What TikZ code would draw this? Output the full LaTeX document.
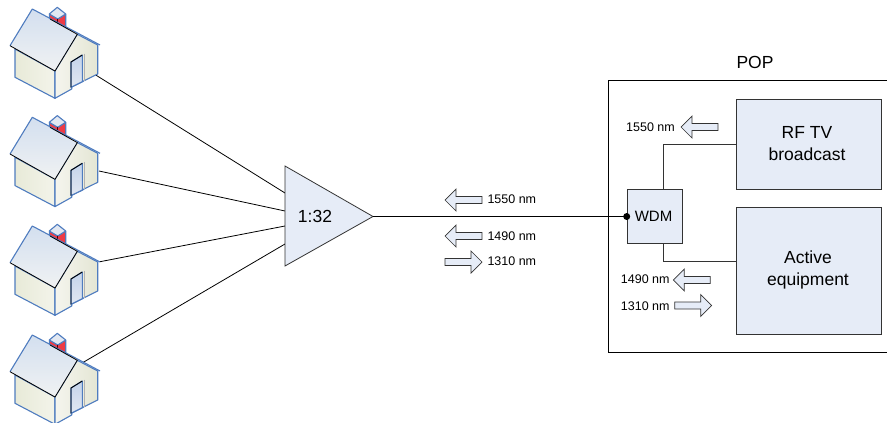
\documentclass[tikz,border=0pt]{standalone}
\usepackage{fontspec}
\setmainfont{Liberation Sans}
\definecolor{boxfill}{HTML}{E6ECF7}
\definecolor{boxline}{HTML}{333333}
\definecolor{roofblue}{HTML}{4F7CBF}
\definecolor{walla}{HTML}{E8EAD8}
\definecolor{wallb}{HTML}{F3F4EA}
\definecolor{wallc}{HTML}{F5F5EE}
\definecolor{walld}{HTML}{E4E6D4}
\definecolor{rooftop}{HTML}{D3DFEF}
\definecolor{roofbot}{HTML}{F0F2F3}
\definecolor{chimred}{HTML}{EE3B45}
\definecolor{doortop}{HTML}{C4D3EA}
\definecolor{doorbot}{HTML}{E2E8F2}
\tikzset{
  x=1pt,y=-1pt,
  panel/.style={draw=boxline,fill=boxfill,line width=0.8pt,inner sep=0pt,align=center,anchor=north west},
  wire/.style={draw=black,line width=0.8pt},
  wiregray/.style={draw=boxline,line width=0.8pt},
  lam/.style={anchor=west,inner sep=0pt,font=\fontsize{12.5}{14}\selectfont},
  big/.style={font=\fontsize{17.5}{21.5}\selectfont},
  blockarrow/.style={draw=boxline,fill=boxfill,line width=0.7pt,line join=miter},
  hline/.style={draw=roofblue,line width=1.1pt,line join=round},
  house/.pic={
    \path[left color=walla,right color=wallb,hline]
      (15,49)--(15,77.3)--(55,98.3)--(55,71)--cycle;
    \path[left color=wallc,right color=walld,hline]
      (55,98.3)--(71.7,89)--(71.7,87)--(83,81.5)--(83.5,81)--(97.7,74)--(97.7,45)--(77.3,34.3)--(55,71)--cycle;
    \path[draw=roofblue,line width=1.1pt,line join=round,fill=chimred] (49.3,14)--(57.7,19)--(65.7,14)--(65.7,32)--(49.3,22)--cycle;
    \path[hline,fill=doorbot] (49.3,14)--(57.3,7.3)--(65.7,14)--(57.7,19)--cycle;
    \draw[line width=0.7pt,black!70!red] (57.7,19)--(57.7,25);
    \path[top color=doortop,bottom color=doorbot,hline] (71,62)--(82.3,55)--(82.3,81.7)--(71,87.3)--cycle;
    \draw[black,line width=0.9pt] (71,87.3)--(71,62)--(82.3,55);
    \draw[white!70!black,line width=0.7pt] (84.3,53.5)--(84.3,80.5);
    \path[top color=rooftop,bottom color=roofbot,draw=none] (32.3,9)--(77.3,34.3)--(55,71)--(10,45.7)--cycle;
    \draw[roofblue,line width=1.1pt,line join=round] (10,45.7)--(32.3,9)--(100,45);
    \draw[black,line width=0.8pt] (10,45.7)--(55,71)--(77.3,34.3)--(50,19);
  }
}
\begin{document}
\begin{tikzpicture}
\useasboundingbox (0,0) rectangle (887,423);
\coordinate (h1) at (95.7,75);
\coordinate (h2) at (99,171);
\coordinate (h3) at (100,261.7);
\coordinate (h4) at (83.3,362.3);
\coordinate (ta) at (285,193);
\coordinate (tb) at (285,211);
\coordinate (tc) at (285,226);
\coordinate (td) at (285,244);
\coordinate (tapex) at (373,216.5);
\draw[wire] (h1)--(ta);
\draw[wire] (h2)--(tb);
\draw[wire] (h3)--(tc);
\draw[wire] (h4)--(td);
\foreach \d in {0,108.3,217,326}{\pic at (0,\d) {house};}
\path[draw=boxline,fill=boxfill,line width=0.8pt,line join=miter] (285,166)--(tapex)--(285,266)--cycle;
\node[big,inner sep=0pt] (split) at (315,216) {1:32};
% POP
\coordinate (pr1) at (887,80);
\coordinate (pr2) at (887,352);
\draw[wire] (pr1)--(608.3,80)--(608.3,352)--(pr2);
\node[big,inner sep=0pt] (pop) at (755,62) {POP};
\node[panel,minimum width=145pt,minimum height=90.3pt] (rf) at (735.7,98.7) {};
\node[big,inner sep=0pt,align=center] (rft) at (807,143.5) {RF TV\\broadcast};
\node[panel,minimum width=145pt,minimum height=127pt] (act) at (735.7,207.3) {};
\node[big,inner sep=0pt,align=center] (actt) at (808,270) {Active\\equipment};
\node[panel,minimum width=55pt,minimum height=54.3pt] (wdm) at (626.7,189) {};
\node[inner sep=0pt,font=\fontsize{15}{18}\selectfont] (wdmt) at (653.5,216.5) {WDM};
\draw[wiregray] (663.3,189)--(663.3,144)--(735.7,144);
\draw[wiregray] (663.3,243.3)--(663.3,261.3)--(735.7,261.3);
\coordinate (dot) at (626.7,216.5);
\fill (dot) circle (3.5pt);
\draw[wire] (tapex)--(dot);
% arrows
\def\larrow#1#2{\path[blockarrow] (#1,#2)--++(11,-11)--++(0,7.5)--++(26,0)--++(0,7)--++(-26,0)--++(0,7.5)--cycle;}
\def\rarrow#1#2{\path[blockarrow] (#1,#2)--++(-11,-11)--++(0,7.5)--++(-26,0)--++(0,7)--++(26,0)--++(0,7.5)--cycle;}
\larrow{445}{200}
\larrow{445}{236}
\rarrow{482}{262}
\larrow{681}{127}
\larrow{673.3}{280}
\rarrow{711.7}{305.5}
\node[lam] (a1) at (487.3,199) {1550 nm};
\node[lam] (a2) at (487.3,236) {1490 nm};
\node[lam] (a3) at (487.3,261) {1310 nm};
\node[lam] (b1) at (626,127) {1550 nm};
\node[lam] (b2) at (620.7,279) {1490 nm};
\node[lam] (b3) at (620.7,305.7) {1310 nm};
\end{tikzpicture}
\end{document}
